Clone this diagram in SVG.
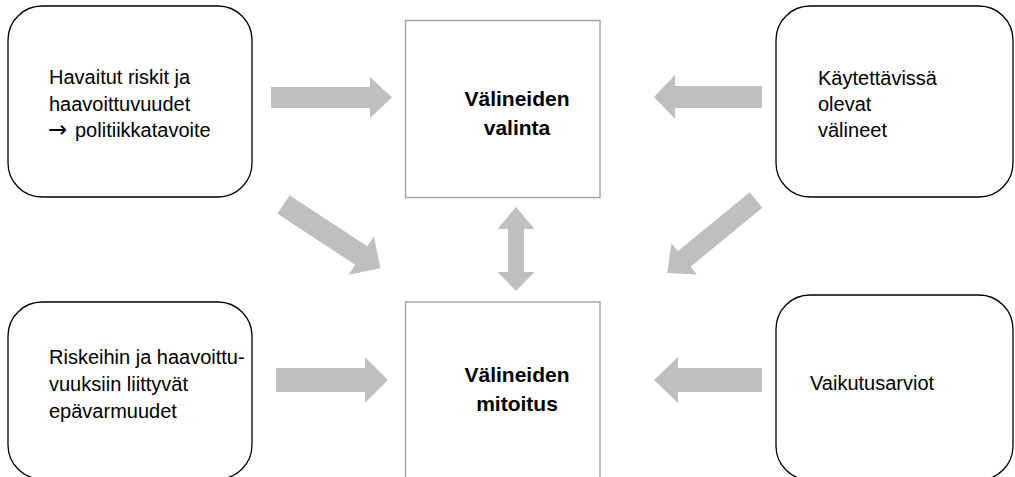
<svg xmlns="http://www.w3.org/2000/svg" width="1015" height="477" viewBox="0 0 1015 477">
  <style>
    .rbox { fill: #ffffff; stroke: #000000; stroke-width: 1.3; }
    .mbox { fill: #ffffff; stroke: #a6a6a6; stroke-width: 1.5; }
    .arrow { fill: #bfbfbf; stroke: none; }
    .t { font-family: "Liberation Sans", Arial, sans-serif; font-size: 20px; fill: #000000; }
    .sym { font-family: "DejaVu Sans", sans-serif; font-size: 23px; }
    .b { font-family: "Liberation Sans", Arial, sans-serif; font-size: 21px; font-weight: bold; fill: #000000; text-anchor: middle; }
  </style>
  <rect width="1015" height="477" fill="#ffffff"/>

  <g id="connectors">
    <path class="arrow" d="M271,87 H370 V77 L392,97.5 L370,118 V108 H271 Z"/>
    <path class="arrow" d="M762,86 H675 V75 L654,97 L675,119 V108 H762 Z"/>
    <path class="arrow" d="M276,368 H365 V357 L388,380 L365,403 V392 H276 Z"/>
    <path class="arrow" d="M762,368 H678 V357 L654,380 L678,403 V392 H762 Z"/>
    <path class="arrow" transform="translate(283.5,204.5) rotate(33.3)" d="M0,-11 H93 V-23 L116,0 L93,23 V11 H0 Z"/>
    <path class="arrow" transform="translate(756,200) rotate(140.6)" d="M0,-10 H93 V-20 L115,0 L93,20 V10 H0 Z"/>
    <path class="arrow" d="M516,207 L534.5,229 H524 V272 H534.5 L516,291 L497.5,272 H508 V229 H497.5 Z"/>
  </g>

  <g id="node-risks">
    <rect class="rbox" x="8" y="6" width="244" height="191" rx="34" ry="34"/>
    <text class="t" x="49" y="84">Havaitut riskit ja</text>
    <text class="t" x="49" y="111">haavoittuvuudet</text>
    <text class="t" x="48" y="137"><tspan class="sym">→</tspan><tspan x="75">politiikkatavoite</tspan></text>
  </g>

  <g id="node-valinta">
    <rect class="mbox" x="405.5" y="20.5" width="194.5" height="177"/>
    <text class="b" x="517" y="106">Välineiden</text>
    <text class="b" x="517" y="135">valinta</text>
  </g>

  <g id="node-kaytettavissa">
    <rect class="rbox" x="776" y="6" width="237" height="191" rx="34" ry="34"/>
    <text class="t" x="818" y="85">Käytettävissä</text>
    <text class="t" x="818" y="111">olevat</text>
    <text class="t" x="818" y="137">välineet</text>
  </g>

  <g id="node-epavarmuudet">
    <rect class="rbox" x="8" y="302" width="244" height="177" rx="34" ry="34"/>
    <text class="t" x="49" y="364">Riskeihin ja haavoittu-</text>
    <text class="t" x="49" y="391">vuuksiin liittyvät</text>
    <text class="t" x="49" y="418">epävarmuudet</text>
  </g>

  <g id="node-mitoitus">
    <rect class="mbox" x="405.5" y="302" width="194.5" height="190"/>
    <text class="b" x="517" y="382">Välineiden</text>
    <text class="b" x="517" y="411">mitoitus</text>
  </g>

  <g id="node-vaikutusarviot">
    <rect class="rbox" x="776" y="295" width="237" height="185" rx="34" ry="34"/>
    <text class="t" x="810" y="390">Vaikutusarviot</text>
  </g>
</svg>
